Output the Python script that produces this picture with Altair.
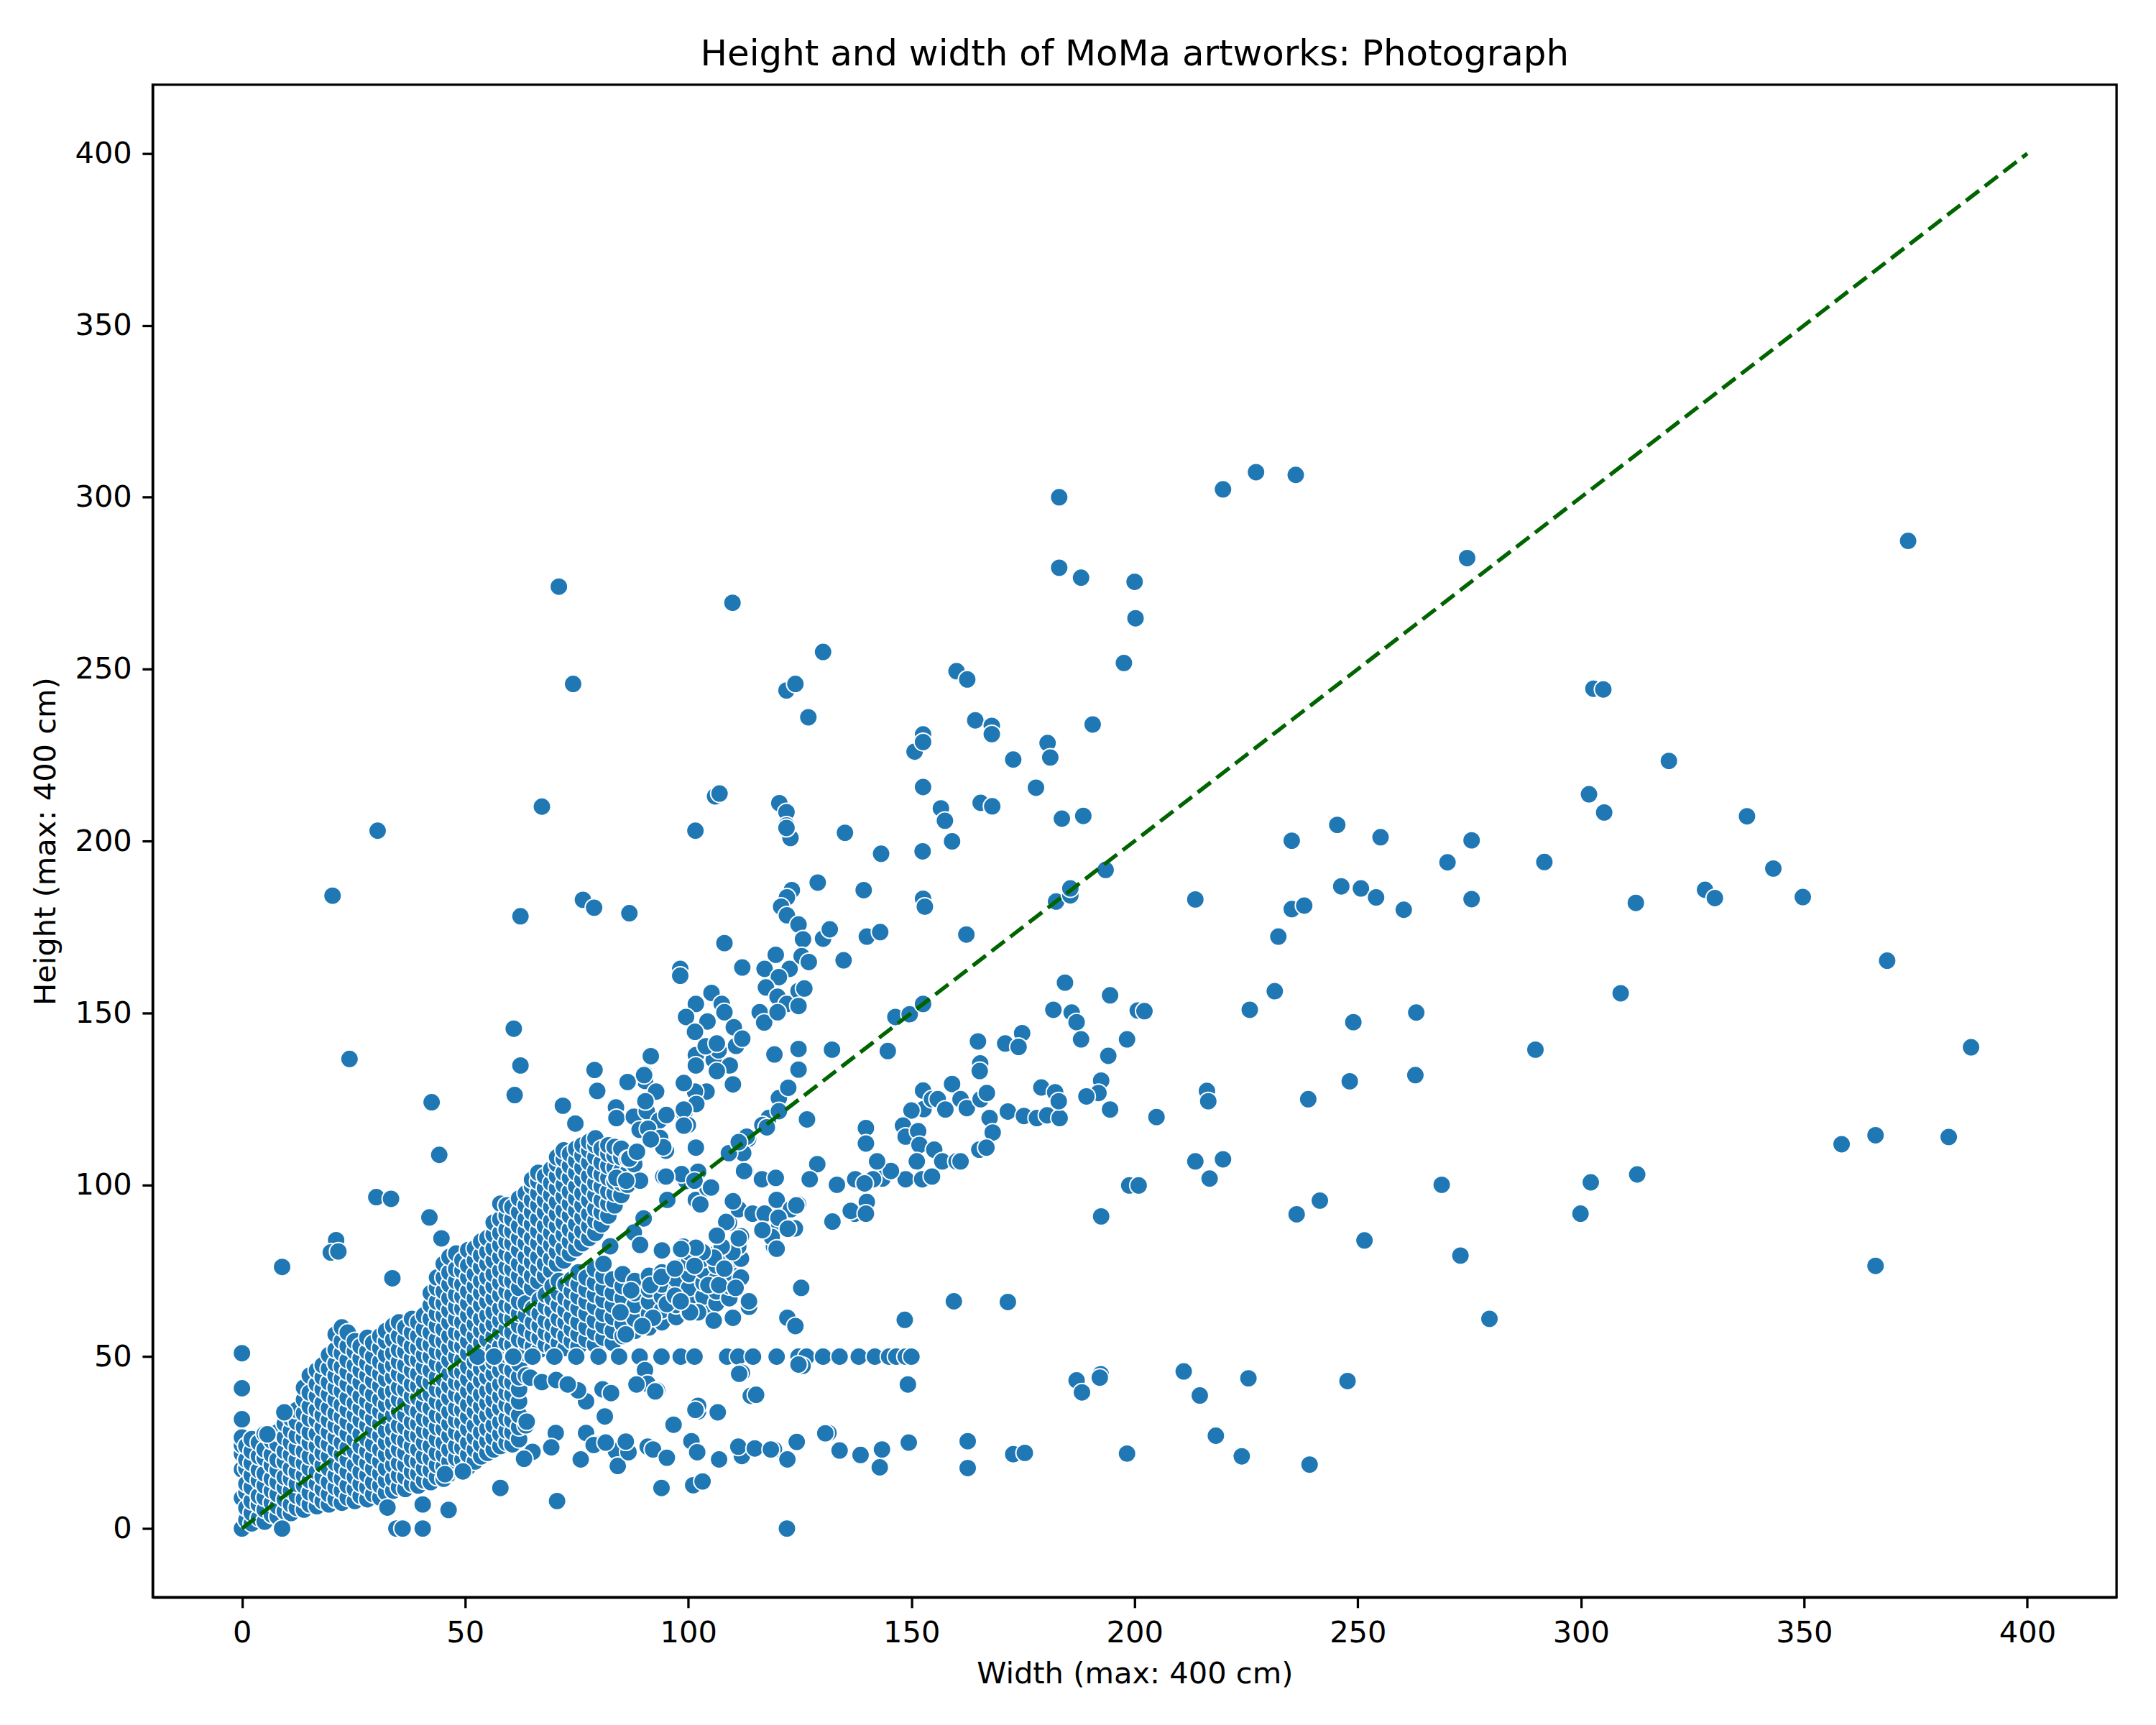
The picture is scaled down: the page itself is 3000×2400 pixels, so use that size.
import altair as alt
import pandas as pd

TITLE = "Height and width of MoMa artworks: Photograph"
X_TITLE = "Width (max: 400 cm)"
Y_TITLE = "Height (max: 400 cm)"
TICKS = [0, 50, 100, 150, 200, 250, 300, 350, 400]

# artworks with width 0 (column on the y axis)
x_zero_column = [0, 8.9, 17.2, 21.7, 24.3, 26.5, 31.8, 40.8, 51]

# dense core of small photographs, read column by column: (width, [heights])
core_columns = [
    (1.0, [2.5, 6, 10.5, 13, 17.5, 20, 24]),
    (2.2, [1.5, 4.5, 8, 12, 15.5, 19, 22.5, 26]),
    (3.8, [3, 7, 9.5, 14, 17, 21, 25]),
    (5.1, [2, 5.5, 9, 12.5, 16, 20.5, 23, 27.5]),
    (6.7, [4, 7.5, 11, 14.5, 18.5, 21.5, 25.5]),
    (8.0, [3.5, 6.5, 10, 13.5, 17, 20, 24.5, 28]),
    (9.6, [5, 8.5, 12, 15, 19.5, 22.5, 26.5, 30.5]),
    (11.0, [4.5, 7, 11, 14.5, 17.5, 21.5, 25, 28.5, 32]),
    (12.3, [6, 9.5, 13, 16.5, 20, 23.5, 27, 31, 34.5]),
    (13.9, [5.5, 8.5, 12.5, 15.5, 19, 22.5, 26.5, 29.5, 33.5, 37.5, 41]),
    (15.2, [7, 10.5, 14, 17.5, 21, 25, 28, 32, 35.5, 39.5, 44.5]),
    (16.8, [6.5, 9.5, 13, 16.5, 20.5, 24, 27.5, 31.5, 34.5, 38.5, 42, 46]),
    (18.1, [8, 11.5, 15, 18.5, 22, 25.5, 29.5, 33, 36.5, 40.5, 44, 47.5]),
    (19.5, [7, 10, 13.5, 17.5, 21, 24.5, 28, 31.5, 35, 39, 42.5, 46.5, 50.5]),
    (21.0, [8.5, 12, 15.5, 19, 23, 26.5, 30, 33.5, 37.5, 41, 44.5, 48, 52, 56.5]),
    (22.4, [7.5, 11, 14.5, 18, 21.5, 25, 29, 32.5, 36, 40, 43.5, 47, 51, 54.5, 58.5]),
    (23.7, [9, 12.5, 16.5, 20, 23.5, 27.5, 31, 34.5, 38, 42, 45.5, 49, 53, 57]),
    (25.3, [8, 11.5, 15, 18.5, 22.5, 26, 29.5, 33, 36.5, 40.5, 44, 47.5, 51.5, 54.5]),
    (26.6, [9.5, 13, 16.5, 20.5, 24, 27.5, 31.5, 35, 38.5, 42.5, 46, 49.5, 53]),
    (28.1, [8.5, 12, 15.5, 19, 22.5, 26, 30, 33.5, 37, 40.5, 44.5, 48, 51.5, 55.5]),
    (29.4, [10, 13.5, 17.5, 21, 24.5, 28.5, 32, 35.5, 39, 43, 46.5, 50, 54]),
    (31.0, [9, 12.5, 16, 19.5, 23, 27, 30.5, 34, 37.5, 41.5, 45, 48.5, 52.5, 56]),
    (32.3, [10.5, 14, 17.5, 21.5, 25, 28.5, 32.5, 36, 39.5, 43.5, 47, 50.5, 54.5, 57.5]),
    (33.9, [11, 14.5, 18.5, 22, 25.5, 29, 33, 36.5, 40, 44, 47.5, 51, 55, 59]),
    (35.2, [12, 15.5, 19, 23, 26.5, 30, 34, 37.5, 41, 45, 48.5, 52, 56, 60]),
    (36.6, [11.5, 15, 18.5, 22, 25.5, 29.5, 33, 36.5, 40.5, 44, 47.5, 51.5, 55, 58.5]),
    (38.1, [13, 16.5, 20, 24, 27.5, 31, 35, 38.5, 42, 46, 49.5, 53, 57, 61]),
    (39.5, [12.5, 16, 19.5, 23, 27, 30.5, 34, 38, 41.5, 45, 49, 52.5, 56, 60]),
    (40.8, [14, 17.5, 21, 25, 28.5, 32, 36, 39.5, 43, 47, 50.5, 54, 58, 62]),
    (42.3, [13.5, 17, 20.5, 24, 28, 31.5, 35, 39, 42.5, 46, 50, 53.5, 57, 61, 65, 68.5]),
    (43.7, [15, 18.5, 22, 26, 29.5, 33, 37, 40.5, 44, 48, 51.5, 55, 59, 62.5, 66, 70, 73]),
    (45.2, [14.5, 18, 21.5, 25, 29, 32.5, 36, 40, 43.5, 47, 51, 54.5, 58, 62, 65.5, 69, 73, 77]),
    (46.5, [16, 19.5, 23, 27, 30.5, 34, 38, 41.5, 45, 49, 52.5, 56, 60, 63.5, 67, 71, 74.5, 79]),
    (48.0, [17, 20.5, 24, 28, 31.5, 35, 39, 42.5, 46, 50, 53.5, 57, 61, 64.5, 68, 72, 75.5, 80]),
    (49.4, [16.5, 20, 23.5, 27, 31, 34.5, 38, 42, 45.5, 49, 53, 56.5, 60, 64, 67.5, 71, 75, 78]),
    (50.7, [18, 21.5, 25, 29, 32.5, 36, 40, 43.5, 47, 51, 54.5, 58, 62, 65.5, 69, 73, 76.5, 81]),
    (52.2, [19.5, 23, 26.5, 30, 34, 37.5, 41, 45, 48.5, 52, 56, 59.5, 63, 67, 70.5, 74, 78, 81.5]),
    (53.6, [21, 24.5, 28, 32, 35.5, 39, 43, 46.5, 50, 54, 57.5, 61, 65, 68.5, 72, 76, 79.5, 83.5]),
    (55.0, [22, 25.5, 29, 33, 36.5, 40, 44, 47.5, 51, 55, 58.5, 62, 66, 69.5, 73, 77, 80.5, 84.5]),
    (56.4, [23, 26.5, 30, 34, 37.5, 41, 45, 48.5, 52, 56, 59.5, 63, 67, 70.5, 74, 78, 81.5, 85.5, 89]),
    (57.9, [24, 27.5, 31, 35, 38.5, 42, 46, 49.5, 53, 57, 60.5, 64, 68, 71.5, 75, 79, 82.5, 86, 90, 94.5]),
    (59.3, [25, 28.5, 32, 36, 39.5, 43, 47, 50.5, 54, 58, 61.5, 65, 69, 72.5, 76, 80, 83.5, 87, 91, 94]),
    (60.6, [24.5, 28, 31.5, 35, 39, 42.5, 46, 50, 53.5, 57, 61, 64.5, 68, 72, 75.5, 79, 83, 86.5, 90, 93.5]),
    (62.1, [26, 29.5, 33, 37, 40.5, 44, 48, 51.5, 55, 59, 62.5, 66, 70, 73.5, 77, 81, 84.5, 88, 92, 96]),
    (63.6, [30, 44.5, 51, 54.5, 58, 62, 65.5, 72, 75.5, 79, 83, 86.5, 90, 94, 97.5]),
]

# upper arm (taller than wide)
arm_columns = [
    (65.0, [70, 73.5, 77.5, 81, 84.5, 88.5, 92, 95.5, 99.5, 101.5]),
    (66.4, [72, 75.5, 79, 83, 86.5, 90, 94, 97.5, 101, 103.5]),
    (67.9, [73.5, 77, 81, 84.5, 88, 92, 95.5, 99, 102.5]),
    (69.3, [75, 78.5, 82.5, 86, 89.5, 93.5, 97, 100.5, 104.5]),
    (70.6, [77, 80.5, 84, 88, 91.5, 95, 99, 102.5, 106, 108]),
    (72.1, [78, 81.5, 85.5, 89, 92.5, 96.5, 100, 103.5, 107.5, 110]),
    (73.5, [80, 83.5, 87, 91, 94.5, 98, 102, 105.5, 109]),
    (74.9, [81.5, 85, 88.5, 92.5, 96, 99.5, 103.5, 107, 110.5]),
    (76.3, [83, 86.5, 90.5, 94, 97.5, 101.5, 105, 108.5, 111.5]),
    (77.8, [84.5, 88, 91.5, 95.5, 99, 102.5, 106.5, 110, 112.5]),
    (79.2, [86, 89.5, 93, 97, 100.5, 104, 108, 111.5, 113.5]),
    (80.6, [88.5, 92, 95.5, 99.5, 103, 106.5, 110.5]),
    (82.1, [91, 94.5, 98, 102, 105.5, 109, 111.5]),
    (83.5, [94, 97.5, 101, 105, 108.5, 111]),
    (85.0, [97, 100.5, 104, 108, 110.5]),
    (86.4, [100, 103.5, 107.5]),
    (87.9, [102.5, 106]),
]

# lower band (wider than tall)
band_columns = [
    (65.2, [53, 56.5, 60, 64]),
    (66.7, [52, 55.5, 59, 62.5, 66.5]),
    (68.1, [53.5, 57, 60.5, 64.5, 68]),
    (69.6, [52.5, 56, 59.5, 63.5, 67, 70.5]),
    (71.0, [54, 57.5, 61, 65, 68.5, 72]),
    (72.5, [52.5, 56, 60, 63.5, 67, 71]),
    (73.9, [54.5, 58, 61.5, 65.5, 69, 72.5]),
    (75.4, [53, 56.5, 60, 64, 67.5, 71, 74.5]),
    (77.2, [55, 58.5, 62.5, 66, 69.5, 73]),
    (79.1, [53.5, 57, 60.5, 64.5, 68, 71.5, 75.5]),
    (81.0, [55.5, 59, 62.5, 66.5, 70, 73.5, 77]),
    (83.1, [54, 57.5, 61.5, 65, 68.5, 72.5]),
    (85.3, [56, 59.5, 63, 67, 70.5, 74]),
    (88.0, [57.5, 61, 65, 68.5, 72]),
    (91.2, [58.5, 62.5, 66, 69.5, 73.5]),
    (94.1, [60, 63.5, 67.5, 71, 74.5]),
    (97.3, [61.5, 65, 69, 72.5, 76]),
    (100.2, [63, 66.5, 70, 74, 77.5]),
    (103.4, [64, 67.5, 71.5, 75, 78.5]),
    (106.3, [65.5, 69, 72.5, 76.5, 80]),
    (109.2, [67, 70.5, 74.5, 78]),
    (111.8, [73, 78.5, 85]),
]

# the many 50 cm tall prints
fifty_line_widths = [52.8, 56.5, 60.8, 65.1, 70, 74.9, 79.9, 84.5, 89.1, 94, 98.3,
                     101.4, 108.7, 111.2, 114.5, 119.8, 124.7, 126.5, 130.2, 133.9,
                     138.2, 141.8, 145, 146.6, 148.7, 150]

band_points = [
    (113.6, 64.5), (110, 61.3), (105.7, 60.5), (102.2, 62.9), (100.4, 62.9), (95.2, 65.3),
    (97, 67.7), (98.3, 66.1), (92.1, 61.3), (89.7, 58.9), (86, 56.5), (84.8, 62.9),
    (87.2, 69.3), (91.5, 70.8), (94, 73.2), (97, 75.6), (98.9, 82), (100.1, 80.4),
    (119.2, 82), (120.4, 88.4), (123.9, 87.3), (111.2, 82), (109.9, 80.4), (107.5, 82),
    (105.7, 78.8), (103.2, 80.4), (101.4, 76.4), (104.5, 70.8), (106.9, 70.8), (108.1, 75.6),
    (110.6, 70), (113.6, 66.1), (122.2, 61.3), (124, 58.9), (125.3, 70), (112, 45.3),
    (125.6, 47.3), (124.7, 47.7), (90.3, 46.1), (90.9, 42.1), (93, 40.2),
]

left_points = [
    (9, 0), (9.5, 33.8), (5.7, 27.4), (24.1, 136.6), (9, 76.1), (21.1, 83.9), (19.9, 80.3),
    (21.6, 80.6), (30.1, 96.4), (33.4, 95.9), (33.7, 72.8), (42.5, 124), (44.2, 108.7),
    (42, 90.5), (44.7, 84.4), (60.9, 145.4), (62.4, 134.7), (61.1, 126.1), (71.9, 123),
    (74.7, 117.8), (79, 133.4), (79.6, 127.3),
]

low_points = [
    (34.6, 0), (36, 0), (40.5, 0), (40.5, 7), (32.6, 6.1), (46.3, 5.4), (57.9, 11.8),
    (70.6, 8), (70.3, 27.8), (49.5, 16.6), (45.5, 15.8),
    (75.9, 20.1), (77.1, 27.8), (79.2, 24.6), (83.8, 22.5), (84.2, 18.2), (86.6, 22.2),
    (90.9, 23.8), (81.3, 32.6), (80.8, 40.5), (82.7, 39.4), (77.1, 37), (75.3, 40.2),
    (94, 11.8), (92.1, 23), (95.2, 20.6), (96.7, 30.2), (100.7, 25.4), (101.1, 12.6),
    (103.2, 13.7), (102, 22.2), (102.2, 34.1), (102.2, 35.7), (106.6, 33.8), (106.9, 20.1),
    (112, 21.1), (111.2, 23.8), (114.9, 23.3), (114, 38.6), (115.2, 38.9), (119.2, 23),
    (122.1, 0), (122.2, 20.1), (124.3, 25.2), (131.4, 27.8), (133.9, 22.7), (138.6, 21.4),
    (143.4, 23), (142.9, 17.8), (149.4, 25), (149.2, 41.9), (148.5, 60.7),
    (64.6, 43.9), (67.2, 42.6), (70.4, 43.2), (73, 41.9), (88.4, 41.9), (92.6, 39.9),
    (111.4, 45), (63.8, 31.1), (65.1, 22.3), (63.2, 20.3), (69.3, 23.6), (78.8, 24.3),
    (81.5, 25), (86, 25.3), (118.5, 23), (130.7, 27.7), (101.6, 34.5),
]

mid_points = [
    (123.2, 185.7), (122.1, 183.6), (120.8, 180.9), (122.1, 178.4), (124.7, 175.7),
    (125.7, 171.4), (119.6, 166.9), (122.7, 162.8), (125.4, 166.5), (127, 164.8),
    (117.1, 162.8), (120.3, 160.4), (117.4, 157.4), (120, 154.7), (122.1, 152.6),
    (124.7, 156.4), (124.7, 152), (116, 150.2), (117, 147.2), (120, 150.2), (126, 157.1),
    (129, 187.9), (139.3, 185.7), (152.6, 183.2), (153, 180.9), (130.2, 171.6),
    (131.7, 174.3), (140, 172.2), (143, 173.5), (134.8, 165.3), (108.1, 170.3),
    (112.1, 163.2), (98.2, 162.8), (98.2, 160.8),
    (105.2, 155.8), (101.7, 152.6), (107.5, 152.6), (108.1, 150.2), (99.5, 148.8),
    (104.3, 147.5), (110.2, 145.8), (101.5, 144.5), (110.7, 140.4), (104.3, 140.4),
    (101.7, 137.7), (105.7, 136.3), (109.3, 134.7), (101.7, 134.7), (112.1, 142.5),
    (106.8, 139.1), (110, 129.2), (104.1, 127.1), (101.5, 127.1), (99, 129.6),
    (146.4, 148.8), (149.6, 149.6), (152.6, 152.6),
    (120.3, 125.2), (122.4, 128.2), (126.6, 119), (118, 119.4), (116.6, 117.4),
    (120.3, 121.4), (117.6, 116.7), (113.4, 113.3), (112.3, 109.2), (109.1, 109.2),
    (112.8, 104.1),
    (91.6, 137.4), (90.3, 132.3), (90.3, 130.2), (92.8, 127.1), (86.6, 129.8),
    (83.8, 122.5), (83.9, 119.4), (87.8, 119.8), (90.7, 121.4), (93.5, 118.7),
    (95.1, 120.3), (89.1, 116), (91, 116.3), (93.7, 113.6), (99.1, 120.8), (99.9, 117.4),
    (101.8, 123.5), (101.8, 111), (95, 109.9), (88.6, 109.9), (86.8, 107.6), (94.4, 102.4),
    (101.7, 95.6), (99.5, 101.1), (104.3, 99), (102.2, 103.8), (102.7, 94.3), (98.5, 103.1),
    (90, 90.2), (95.3, 95.6), (87.8, 86.1), (82.5, 82.1),
    (109.1, 88.9), (111.3, 92.9), (114.4, 91.6), (117.1, 91.6), (119.8, 95.6), (123, 92.9),
    (124.6, 94.3), (118.7, 84.8), (119.8, 81.4), (116.6, 86.8), (140, 95), (137.3, 91.6),
    (132.3, 89.3),
    (101.7, 110.8), (94.4, 110.9), (91.6, 113.2), (88.5, 109.6), (89.2, 101.2), (83.9, 102),
    (86.1, 101.2), (95, 102.4), (101.4, 101.2), (105.1, 99.2), (110, 95.2), (120.2, 90.4),
    (124.2, 94), (122.3, 87.2), (111.3, 84.4), (108.5, 89.2), (106.4, 85.2), (101.7, 81.7),
    (98.4, 81.3), (94.1, 80.9), (89.2, 82.5), (112.5, 104), (116.5, 101.6), (119.6, 102),
    (113.1, 114), (111.3, 112.4), (136.4, 92.4), (139.8, 91.6), (143.8, 103.6), (99, 121.9),
    (99, 117.2), (90.4, 124.3), (86.4, 129.9), (90.1, 131.9), (106.4, 133.1), (103.9, 140.3),
    (106.4, 141.1),
    (144.7, 138.9), (152.6, 127.4), (152.7, 122), (150, 121.6), (148.1, 117.2), (148.7, 114),
    (151.5, 115.6), (151.8, 111.6), (151.2, 106.8), (148.7, 101.6), (152.4, 101.6),
    (143.5, 101.8), (145.4, 104), (142.3, 106.8), (139.8, 116.5), (139.8, 112),
    (137.4, 101.6), (141.4, 101.6), (139.5, 100.4), (133.3, 100), (128.9, 106),
    (127.2, 101.6), (132.2, 139.3), (124.7, 139.5), (124.7, 133.5), (119.3, 137.9),
]

upper_points = [
    (183.1, 300), (219.8, 302.3), (227.2, 307.3), (236.1, 306.5), (274.5, 282.3),
    (183.1, 279.5), (188, 276.6), (200, 275.4), (200.2, 264.8), (197.6, 251.8),
    (160.1, 249.4), (162.5, 247), (164.3, 235.1), (168, 233.5), (168, 231.1),
    (190.6, 233.9), (172.8, 223.7), (180.5, 228.5), (181.1, 224.3), (177.9, 215.5),
    (156.6, 209.5), (157.5, 205.9), (159.1, 199.9), (165.5, 211.1), (168.1, 210.1),
    (183.7, 206.5), (188.5, 207.3), (193.5, 191.6),
    (150.7, 226), (152.6, 231), (152.6, 228.8), (152.6, 215.7), (130.2, 255), (122, 243.8),
    (124, 245.7), (126.9, 236), (109.9, 269.3), (71, 274), (74.2, 245.7), (67.2, 210),
    (30.4, 203), (20.3, 184.1), (106, 213), (107, 213.8), (120.4, 211), (122, 208.4),
    (122, 204.5), (122.9, 200.9), (101.6, 203), (122, 203.8), (135.1, 202.4),
    (143.2, 196.3), (152.5, 197), (62.4, 178.1), (76.4, 182.9), (78.9, 180.6), (86.8, 179),
]

right_points = [
    (182.4, 182.4), (185.6, 184.2), (185.6, 186.2), (213.6, 183), (162.3, 172.8),
    (235.2, 200.1), (245.4, 204.7), (255.1, 201.1), (270.1, 193.8), (246.3, 186.8),
    (250.7, 186.2), (254.1, 183.6), (260.3, 180), (235.2, 180.2), (238, 181.2),
    (232.2, 172.2), (184.4, 158.8), (181.8, 150.9), (185.9, 150.1), (187, 147.3),
    (188, 142.3), (194.5, 155.1), (200.7, 150.7), (202.2, 150.5), (198.3, 142.3),
    (194.1, 137.5), (192.5, 130.3), (191.9, 126.7), (189.2, 125.7), (194.5, 121.9),
    (204.9, 119.7), (225.8, 150.9), (231.4, 156.3), (249, 147.3), (263.1, 150.1),
    (248.2, 130.1), (262.9, 131.9), (238.9, 124.9), (216.2, 127.3), (216.5, 124.3),
    (164.9, 141.7), (171, 141.1), (174.8, 144.1), (174, 140.1), (165.4, 135.3),
    (165.3, 133.1), (159.1, 129.3), (154.6, 124.9), (155.9, 124.9), (157.6, 121.9),
    (161, 124.9), (162.4, 122.3), (165.5, 124.9), (166.9, 126.7), (167.5, 119.4),
    (168.2, 115.2), (171.6, 121.3), (175.2, 120), (178.1, 119.4), (180.4, 120.2),
    (183.2, 119.4), (179.1, 128.3), (182.2, 126.9), (183, 124.3),
    (155.1, 110.2), (156.9, 106.8), (160.1, 106.8), (161, 106.8), (165.2, 110.2),
    (166.8, 110.8), (154.6, 102.4), (198.8, 99.8), (200.9, 99.8), (192.5, 90.8),
    (213.6, 106.8), (219.8, 107.4), (216.8, 101.8), (236.3, 91.4), (241.5, 95.4),
    (251.5, 83.8), (268.8, 100), (273, 79.4),
    (159.5, 66.1), (171.6, 65.9), (187, 43.1), (188.2, 39.6), (192.4, 44.9), (192.2, 43.9),
    (211, 45.7), (214.6, 38.7), (225.5, 43.7), (247.7, 42.9), (162.6, 25.4), (162.6, 17.6),
    (172.8, 21.6), (175.4, 22), (198.3, 21.8), (218.2, 27), (224, 21), (239.2, 18.6),
]

far_right_points = [
    (373.3, 287.3), (302.8, 244.3), (305, 244.1), (319.7, 223.3), (301.8, 213.6),
    (305.2, 208.3), (337.2, 207.2), (275.5, 200.2), (275.5, 183.1), (291.8, 193.9),
    (312.3, 182), (327.8, 185.8), (330, 183.4), (343.1, 192), (349.7, 183.7),
    (368.6, 165.2), (308.9, 155.7), (289.8, 139.3), (387.4, 140), (358.4, 111.8),
    (366, 114.4), (382.4, 113.9), (302.2, 100.7), (312.6, 103), (299.9, 91.6),
    (366, 76.4), (279.5, 61),
]

rows = [(0, h) for h in x_zero_column]
for w, hs in core_columns + arm_columns + band_columns:
    rows += [(w, h) for h in hs]
rows += [(w, 50) for w in fifty_line_widths]
rows += band_points + left_points + low_points + mid_points
rows += upper_points + right_points + far_right_points

df = pd.DataFrame(rows, columns=["width", "height"])
diag = pd.DataFrame({"width": [0, 400], "height": [0, 400]})
title_df = pd.DataFrame({"label": [TITLE]})

FONT = "DejaVu Sans"
PLOT_W, PLOT_H = 2740, 2110
xscale = alt.Scale(domain=[-20, 420], nice=False, zero=False)
yscale = alt.Scale(domain=[-20, 420], nice=False, zero=False)

points = alt.Chart(df).mark_point(
    shape="circle", filled=True, size=625, color="#1f77b4", opacity=1,
    stroke="white", strokeWidth=2,
).encode(
    x=alt.X("width:Q", scale=xscale,
            axis=alt.Axis(values=TICKS, title=X_TITLE, format="d", titlePadding=16)),
    y=alt.Y("height:Q", scale=yscale,
            axis=alt.Axis(values=TICKS, title=Y_TITLE, format="d", titlePadding=19)),
)

line = alt.Chart(diag).mark_line(
    color="#006400", strokeWidth=5.5, strokeDash=[23, 10], strokeCap="butt",
).encode(x=alt.X("width:Q", scale=xscale), y=alt.Y("height:Q", scale=yscale))

title = alt.Chart(title_df).mark_text(
    font=FONT, fontSize=50, color="black", align="center", baseline="alphabetic",
).encode(x=alt.value(PLOT_W / 2), y=alt.value(-26.5), text="label:N")

chart = alt.layer(points, line, title).properties(
    width=PLOT_W, height=PLOT_H,
    background="white",
    autosize=alt.AutoSizeParams(type="none"),
    padding={"left": 205, "top": 107, "right": 47, "bottom": 175},
).configure_axis(
    grid=False, domainColor="black", domainWidth=3.3, tickColor="black",
    tickWidth=3.3, tickSize=14.6, labelFont=FONT, labelFontSize=41.7,
    labelColor="black", labelPadding=14.6, titleFont=FONT, titleFontSize=41.7,
    titleFontWeight="normal", titleColor="black", labelFlush=False,
    labelOverlap=False,
).configure_view(stroke="black", strokeWidth=3.3)

chart.save("out.html", embed_options={"renderer": "svg", "actions": False})
